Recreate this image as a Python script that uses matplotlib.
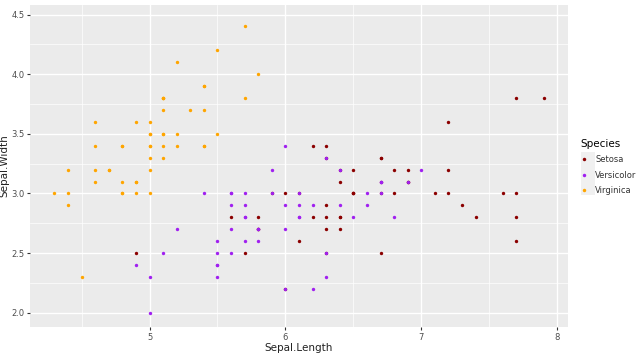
import matplotlib
matplotlib.use("Agg")
import matplotlib.pyplot as plt
from matplotlib.lines import Line2D
from matplotlib.patches import Rectangle

# Series as labelled in the chart legend
setosa_len = [6.3,5.8,7.1,6.3,6.5,7.6,4.9,7.3,6.7,7.2,6.5,6.4,6.8,5.7,5.8,6.4,6.5,7.7,7.7,6.0,6.9,5.6,7.7,6.3,6.7,7.2,6.2,6.1,6.4,7.2,7.4,7.9,6.4,6.3,6.1,7.7,6.3,6.4,6.0,6.9,6.7,6.9,5.8,6.8,6.7,6.7,6.3,6.5,6.2,5.9]
setosa_wid = [3.3,2.7,3.0,2.9,3.0,3.0,2.5,2.9,2.5,3.6,3.2,2.7,3.0,2.5,2.8,3.2,3.0,3.8,2.6,2.2,3.2,2.8,2.8,2.7,3.3,3.2,2.8,3.0,2.8,3.0,2.8,3.8,2.8,2.8,2.6,3.0,3.4,3.1,3.0,3.1,3.1,3.1,2.7,3.2,3.3,3.0,2.5,3.0,3.4,3.0]
versicolor_len = [7.0,6.4,6.9,5.5,6.5,5.7,6.3,4.9,6.6,5.2,5.0,5.9,6.0,6.1,5.6,6.7,5.6,5.8,6.2,5.6,5.9,6.1,6.3,6.1,6.4,6.6,6.8,6.7,6.0,5.7,5.5,5.5,5.8,6.0,5.4,6.0,6.7,6.3,5.6,5.5,5.5,6.1,5.8,5.0,5.6,5.7,5.7,6.2,5.1,5.7]
versicolor_wid = [3.2,3.2,3.1,2.3,2.8,2.8,3.3,2.4,2.9,2.7,2.0,3.0,2.2,2.9,2.9,3.1,3.0,2.7,2.2,2.5,3.2,2.8,2.5,2.8,2.9,3.0,2.8,3.0,2.9,2.6,2.4,2.4,2.7,2.7,3.0,3.4,3.1,2.3,3.0,2.5,2.6,3.0,2.6,2.3,2.7,3.0,2.9,2.9,2.5,2.8]
virginica_len = [5.1,4.9,4.7,4.6,5.0,5.4,4.6,5.0,4.4,4.9,5.4,4.8,4.8,4.3,5.8,5.7,5.4,5.1,5.7,5.1,5.4,5.1,4.6,5.1,4.8,5.0,5.0,5.2,5.2,4.7,4.8,5.4,5.2,5.5,4.9,5.0,5.5,4.9,4.4,5.1,5.0,4.5,4.4,5.0,5.1,4.8,5.1,4.6,5.3,5.0]
virginica_wid = [3.5,3.0,3.2,3.1,3.6,3.9,3.4,3.4,2.9,3.1,3.7,3.4,3.0,3.0,4.0,4.4,3.9,3.5,3.8,3.8,3.4,3.7,3.6,3.3,3.4,3.0,3.4,3.5,3.4,3.2,3.1,3.4,4.1,4.2,3.1,3.2,3.5,3.6,3.0,3.4,3.5,2.3,3.2,3.5,3.8,3.0,3.8,3.2,3.7,3.3]

species = ["Setosa", "Versicolor", "Virginica"]
colors = ["#8B0000", "#A020F0", "#FFA500"]
x_ticks = [5, 6, 7, 8]
y_ticks = [2.0, 2.5, 3.0, 3.5, 4.0, 4.5]

W, H = 639, 354
fig = plt.figure(figsize=(W / 100, H / 100), dpi=100)
ax = fig.add_axes([30 / W, 1 - 327 / H, 538 / W, 322 / H])
ax.set_facecolor("#EBEBEB")
for s in ax.spines.values():
    s.set_visible(False)

series = [(setosa_len, setosa_wid), (versicolor_len, versicolor_wid), (virginica_len, virginica_wid)]
for (xs, ys), c in zip(series, colors):
    ax.scatter(xs, ys, s=6, color=c, linewidths=0, zorder=3)

ax.set_xlim(4.12, 8.08)
ax.set_ylim(1.88, 4.58)
ax.set_xticks(x_ticks)
ax.set_xticklabels([str(v) for v in x_ticks])
ax.set_yticks(y_ticks)
ax.set_yticklabels([f"{v:.1f}" for v in y_ticks])
ax.set_xticks([4.5, 5.5, 6.5, 7.5], minor=True)
ax.set_yticks([2.25, 2.75, 3.25, 3.75, 4.25], minor=True)
ax.grid(which="major", color="white", linewidth=1.0, zorder=0)
ax.grid(which="minor", color="white", linewidth=0.5, zorder=0)
ax.set_axisbelow(True)
ax.tick_params(which="major", length=2.5, color="#333333", labelsize=6, labelcolor="#4D4D4D", pad=1.5)
ax.tick_params(which="minor", length=0)
ax.set_xlabel("Sepal.Length", fontsize=7.5, color="#222222", labelpad=1)
ax.set_ylabel("Sepal.Width", fontsize=7.5, color="#222222", labelpad=1.5)

# legend key background
fig.patches.append(Rectangle((581 / W, 1 - 195 / H), 14 / W, 43 / H, transform=fig.transFigure,
                             facecolor="#F0F0F0", edgecolor="none", zorder=0))

handles = [Line2D([], [], marker="o", linestyle="none", markersize=2.5, color=c, markeredgewidth=0) for c in colors]
leg = fig.legend(handles, species, title="Species", loc="upper left", bbox_to_anchor=(580 / W, 1 - 139 / H),
                 frameon=False, fontsize=6, title_fontsize=7.5, handlelength=1.0, handletextpad=0.8,
                 labelspacing=0.75, borderaxespad=0, borderpad=0)
leg._legend_box.align = "left"
for t in leg.get_texts():
    t.set_color("#333333")

fig.savefig("out.png", dpi=100)
